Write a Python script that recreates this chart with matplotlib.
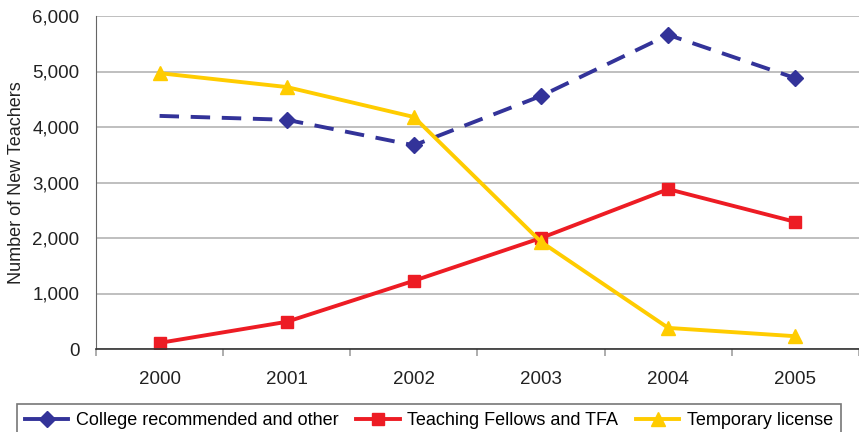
import matplotlib.pyplot as plt
from matplotlib.ticker import FuncFormatter, FixedLocator

plt.rcParams['font.family'] = ['Liberation Sans', 'DejaVu Sans']

years = ["2000", "2001", "2002", "2003", "2004", "2005"]
college = [4200, 4130, 3670, 4560, 5660, 4880]
fellows = [110, 490, 1230, 2000, 2880, 2290]
temporary = [4970, 4720, 4180, 1930, 380, 230]

BLUE = "#333399"
RED = "#ED1C24"
GOLD = "#FFCC00"
FS = 13.5

fig = plt.figure(figsize=(8.59, 4.32), dpi=100)
ax = fig.add_axes([96 / 859, 1 - 349 / 432, 763 / 859, 333 / 432])

x = list(range(len(years)))
ax.plot(x, college, color=BLUE, lw=2.8, dashes=(5, 3), marker="D", ms=8,
        markevery=[1, 2, 3, 4, 5], label="College recommended and other")
ax.plot(x, fellows, color=RED, lw=2.8, marker="s", ms=8,
        label="Teaching Fellows and TFA")
ax.plot(x, temporary, color=GOLD, lw=2.8, marker="^", ms=10,
        label="Temporary license")

ax.set_xlim(-0.5, 5.5)
ax.set_ylim(0, 6000)
ax.set_yticks(range(0, 6001, 1000))
ax.yaxis.set_major_formatter(FuncFormatter(lambda v, p: f"{int(v):,}"))
ax.tick_params(axis="y", length=0, pad=12, labelsize=FS, colors="#222222")
ax.grid(axis="y", color="#b4b4b4", lw=1.2)
ax.set_axisbelow(True)

# category boundaries get the tick marks, labels sit between them
ax.xaxis.set_major_locator(FixedLocator([i - 0.5 for i in range(7)]))
ax.xaxis.set_minor_locator(FixedLocator(x))
ax.set_xticklabels([], minor=False)
ax.set_xticklabels(years, minor=True)
ax.tick_params(axis="x", which="major", length=5, width=1.2, color="#a0a0a0")
ax.tick_params(axis="x", which="minor", length=0, pad=16, labelsize=FS,
               labelcolor="#222222")

for s in ("top", "right"):
    ax.spines[s].set_visible(False)
ax.spines["left"].set_color("#666666")
ax.spines["bottom"].set_color("#333333")
ax.spines["bottom"].set_linewidth(1.2)

ax.set_ylabel("Number of New Teachers", fontsize=13, color="#222222")
ax.yaxis.set_label_coords(-0.093, 0.5)

leg = fig.legend(loc="upper left", bbox_to_anchor=(17 / 859, 1 - 404 / 432),
                 ncol=3, fontsize=13, frameon=True, fancybox=False,
                 borderaxespad=0, handlelength=2.4, handletextpad=0.4,
                 columnspacing=1.0, borderpad=0.45)
leg.get_frame().set_edgecolor("#555555")
leg.get_frame().set_linewidth(1.2)
for h in leg.legend_handles:
    h.set_linestyle("-")

fig.savefig("out.png", dpi=100)
